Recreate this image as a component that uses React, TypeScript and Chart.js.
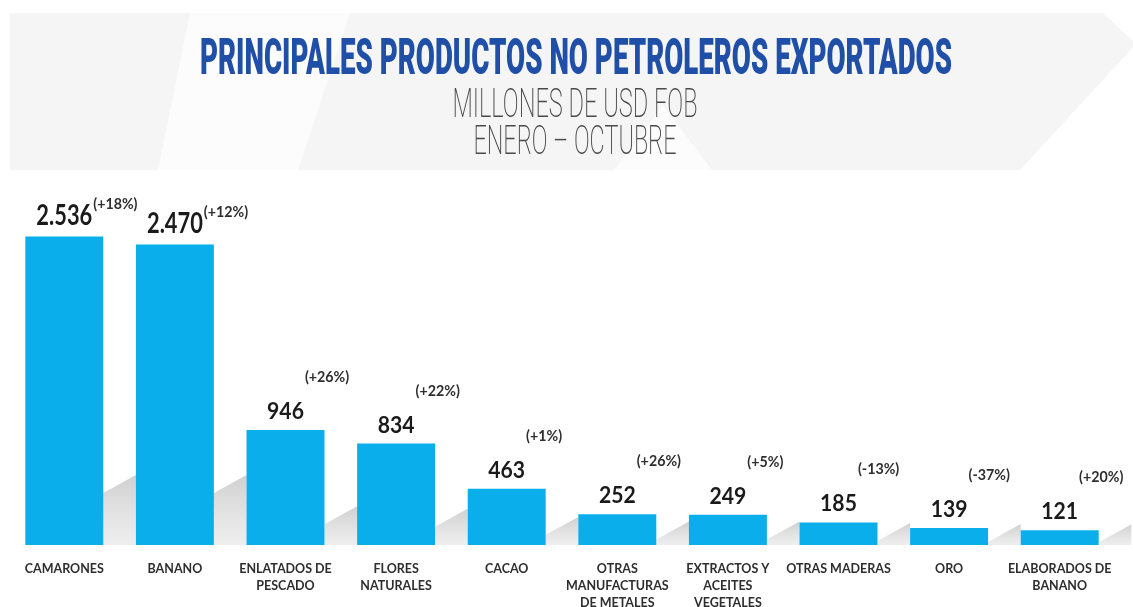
import React, { useEffect, useRef } from 'react';
import { Chart, registerables } from 'chart.js';

Chart.register(...registerables);

// ---------- data ----------
const categories: string[][] = [
  ['CAMARONES'],
  ['BANANO'],
  ['ENLATADOS DE', 'PESCADO'],
  ['FLORES', 'NATURALES'],
  ['CACAO'],
  ['OTRAS', 'MANUFACTURAS', 'DE METALES'],
  ['EXTRACTOS Y', 'ACEITES', 'VEGETALES'],
  ['OTRAS MADERAS'],
  ['ORO'],
  ['ELABORADOS DE', 'BANANO'],
];
const values: number[] = [2536, 2470, 946, 834, 463, 252, 249, 185, 139, 121];
const changes: string[] = ['(+18%)', '(+12%)', '(+26%)', '(+22%)', '(+1%)', '(+26%)', '(+5%)', '(-13%)', '(-37%)', '(+20%)'];
const titleText = 'PRINCIPALES PRODUCTOS NO PETROLEROS EXPORTADOS';
const subtitleLines: string[] = ['MILLONES DE USD FOB', 'ENERO – OCTUBRE'];
const yMax = 3000;

// ---------- helpers ----------
const fmt = (v: number) => String(v).replace(/\B(?=(\d{3})+(?!\d))/g, '.');

function scaledText(
  ctx: CanvasRenderingContext2D,
  text: string,
  x: number,
  y: number,
  font: string,
  color: string,
  scale: number,
  align: CanvasTextAlign
) {
  ctx.save();
  ctx.font = font;
  ctx.fillStyle = color;
  ctx.textAlign = align;
  ctx.textBaseline = 'alphabetic';
  ctx.translate(x, y);
  ctx.scale(scale, 1);
  ctx.fillText(text, 0, 0);
  ctx.restore();
}

function fitText(
  ctx: CanvasRenderingContext2D,
  text: string,
  cx: number,
  y: number,
  font: string,
  color: string,
  width: number
) {
  ctx.save();
  ctx.font = font;
  const w = ctx.measureText(text).width;
  ctx.restore();
  scaledText(ctx, text, cx, y, font, color, width / w, 'center');
}

// ---------- plugins ----------
const backgroundPlugin = {
  id: 'bgHeader',
  beforeDraw(chart: any) {
    const ctx: CanvasRenderingContext2D = chart.ctx;
    ctx.save();
    ctx.fillStyle = '#ffffff';
    ctx.fillRect(0, 0, chart.width, chart.height);
    ctx.fillStyle = '#f5f5f5';
    ctx.beginPath();
    ctx.moveTo(10, 13);
    ctx.lineTo(1103, 13);
    ctx.lineTo(1136, 44);
    ctx.lineTo(1020, 170);
    ctx.lineTo(10, 170);
    ctx.closePath();
    ctx.fill();
    ctx.fillStyle = '#fcfcfc';
    ctx.beginPath();
    ctx.moveTo(190, 13);
    ctx.lineTo(350, 13);
    ctx.lineTo(298, 170);
    ctx.lineTo(158, 170);
    ctx.closePath();
    ctx.fill();
    ctx.beginPath();
    ctx.moveTo(614, 170);
    ctx.lineTo(663, 105);
    ctx.lineTo(712, 170);
    ctx.closePath();
    ctx.fill();
    ctx.restore();

    // titles
    fitText(ctx, titleText, 576, 74, '900 50px Roboto', '#1f4fa6', 752);
    fitText(ctx, subtitleLines[0], 575, 117, '200 41px Roboto', '#4a4a4a', 245);
    fitText(ctx, subtitleLines[1], 575, 154, '200 41px Roboto', '#4a4a4a', 203);
  },
};

const shadowPlugin = {
  id: 'barShadows',
  beforeDatasetsDraw(chart: any) {
    const ctx: CanvasRenderingContext2D = chart.ctx;
    const meta = chart.getDatasetMeta(0);
    const xs = chart.scales.x;
    const step = xs.width / values.length;
    ctx.save();
    meta.data.forEach((bar: any) => {
      const p = bar.getProps(['x', 'y', 'base', 'width'], true);
      const right = p.x + p.width / 2;
      const h = p.base - p.y;
      const s = Math.min(h * 0.18, 52);
      const gap = step - p.width;
      const rise = gap * 0.55;
      const grad = ctx.createLinearGradient(0, p.base - s - rise, 0, p.base);
      grad.addColorStop(0, 'rgba(160,160,160,0.5)');
      grad.addColorStop(1, 'rgba(200,200,200,0.3)');
      ctx.fillStyle = grad;
      ctx.beginPath();
      ctx.moveTo(right, p.base);
      ctx.lineTo(right, p.base - s);
      ctx.lineTo(right + gap, p.base - s - rise);
      ctx.lineTo(right + gap, p.base);
      ctx.closePath();
      ctx.fill();
    });
    ctx.restore();
  },
};

const labelPlugin = {
  id: 'valueLabels',
  afterDatasetsDraw(chart: any) {
    const ctx: CanvasRenderingContext2D = chart.ctx;
    const meta = chart.getDatasetMeta(0);
    meta.data.forEach((bar: any, i: number) => {
      const p = bar.getProps(['x', 'y'], true);
      const big = values[i] >= 1000;
      const font = big ? 'bold 28px Lato' : 'bold 23px Lato';
      const scale = big ? 0.78 : 0.92;
      const txt = fmt(values[i]);
      const baseY = p.y - 11;
      ctx.save();
      ctx.font = font;
      const w = ctx.measureText(txt).width * scale;
      ctx.restore();
      scaledText(ctx, txt, p.x, baseY, font, '#1a1a1a', scale, 'center');
      const pctY = big ? baseY - 16 : baseY - 37;
      scaledText(ctx, changes[i], p.x + w / 2 + 1, pctY, 'bold 15px Lato', '#2e2e2e', 0.95, 'left');
    });
  },
};

export default function App() {
  const ref = useRef<HTMLCanvasElement | null>(null);

  useEffect(() => {
    if (!ref.current) return;
    const chart = new Chart(ref.current, {
      type: 'bar',
      data: {
        labels: categories,
        datasets: [
          {
            data: values,
            backgroundColor: '#0aaeea',
            borderWidth: 0,
            barPercentage: 0.705,
            categoryPercentage: 1,
          },
        ],
      },
      options: {
        responsive: false,
        animation: false,
        devicePixelRatio: 1,
        layout: { padding: { top: 180, left: 9, right: 18, bottom: 0 } },
        plugins: {
          legend: { display: false },
          tooltip: { enabled: false },
          title: { display: false },
        },
        scales: {
          x: {
            grid: { display: false, drawTicks: false },
            border: { display: false },
            ticks: {
              color: '#2e2e2e',
              font: { family: 'Lato', weight: 'bold', size: 12.5, lineHeight: 1.36 },
              padding: 15,
              maxRotation: 0,
              minRotation: 0,
              autoSkip: false,
            },
            afterFit(scale: any) {
              scale.height = 95;
            },
          },
          y: { display: false, min: 0, max: yMax },
        },
      },
      plugins: [backgroundPlugin, shadowPlugin, labelPlugin],
    });
    return () => chart.destroy();
  }, []);

  return (
    <div
      style={{
        position: 'absolute',
        left: 0,
        top: 0,
        width: 1133,
        height: 607,
        overflow: 'hidden',
        background: '#ffffff',
      }}
    >
      <canvas ref={ref} width={1133} height={640} style={{ width: 1133, height: 640, display: 'block' }} />
    </div>
  );
}
